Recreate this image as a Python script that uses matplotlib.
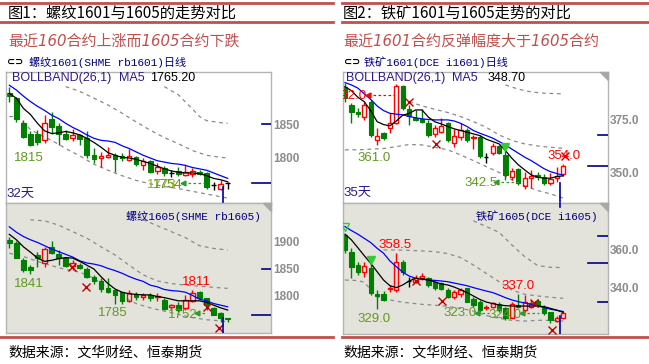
import matplotlib
matplotlib.use("Agg")
import matplotlib.pyplot as plt
import numpy as np
from matplotlib.patches import Rectangle, Polygon
from matplotlib.lines import Line2D

CJK = ['Noto Sans CJK SC', 'DejaVu Sans']
plt.rcParams['font.family'] = ['Liberation Sans', 'Noto Sans CJK SC']

# ---- rebar 1601 (upper left) ----
rb01_open = [1896, 1888, 1852, 1836, 1836, 1826, 1857, 1847, 1835, 1830, 1834, 1829, 1804, 1800, 1802, 1804,
             1803, 1797, 1801, 1790, 1795, 1781, 1785, 1778, 1781, 1775, 1777, 1780, 1778, 1760, 1755, 1763]
rb01_high = [1905, 1890, 1856, 1839, 1841, 1863, 1867, 1851, 1841, 1842, 1836, 1839, 1814, 1809, 1816, 1807,
             1807, 1813, 1803, 1800, 1797, 1792, 1788, 1783, 1787, 1791, 1785, 1782, 1780, 1764, 1768, 1764]
rb01_low = [1883, 1853, 1829, 1817, 1819, 1822, 1836, 1819, 1826, 1825, 1819, 1800, 1793, 1787, 1800, 1780,
            1796, 1795, 1788, 1782, 1778, 1777, 1773, 1772, 1773, 1773, 1772, 1775, 1754, 1753, 1753, 1755]
rb01_close = [1891, 1858, 1831, 1819, 1824, 1851, 1846, 1836, 1828, 1834, 1828, 1804, 1798, 1803, 1804, 1798,
              1800, 1803, 1791, 1795, 1780, 1787, 1778, 1778, 1776, 1780, 1781, 1777, 1758, 1760, 1762, 1763]
rb01_ma5 = [1895, 1888, 1873, 1864, 1851, 1840, 1836, 1837, 1839, 1837, 1834, 1829, 1823, 1816, 1808, 1804,
            1801, 1800, 1798, 1795, 1792, 1788, 1784, 1781, 1779, 1778, 1778, 1777, 1774, 1770, 1768, 1765]
rb01_mid = [1907, 1900, 1891, 1883, 1876, 1870, 1863, 1858, 1851, 1845, 1840, 1834, 1829, 1826, 1825, 1823,
            1818, 1814, 1809, 1804, 1800, 1796, 1794, 1792, 1791, 1789, 1786, 1784, 1782, 1778, 1774, 1770]
rb01_bandA_idx = [8, 10, 12, 14, 16, 18, 20, 22, 24, 26, 28, 30, 31]
rb01_bandA = [1905, 1898, 1888, 1878, 1866, 1853, 1841, 1830, 1821, 1811, 1804, 1801, 1800]
rb01_bandB_idx = [22, 24, 26, 27, 28, 30, 31]
rb01_bandB = [1905, 1893, 1872, 1861, 1855, 1852, 1851]
rb01_bandC_idx = [0, 1, 2, 3, 4, 5, 6, 7, 8, 10, 12, 14, 16, 18, 20, 22, 24, 26, 28, 30, 31]
rb01_bandC = [1861, 1861, 1852, 1842, 1836, 1831, 1826, 1820, 1814, 1803, 1791, 1782, 1774, 1767, 1762,
              1758, 1755, 1751, 1747, 1743, 1741]

# ---- rebar 1605 (lower left) ----
rb05_open = [1904, 1898, 1867, 1854, 1876, 1861, 1891, 1877, 1870, 1856, 1857, 1850, 1836, 1828, 1814, 1811,
             1807, 1791, 1803, 1798, 1801, 1798, 1793, 1780, 1783, 1777, 1791, 1808, 1796, 1778, 1768, 1759]
rb05_high = [1910, 1901, 1870, 1857, 1882, 1891, 1901, 1885, 1873, 1867, 1861, 1854, 1839, 1833, 1833, 1812,
             1808, 1811, 1808, 1805, 1805, 1805, 1796, 1786, 1788, 1802, 1811, 1810, 1797, 1780, 1770, 1760]
rb05_low = [1888, 1870, 1845, 1840, 1854, 1854, 1877, 1857, 1854, 1848, 1850, 1833, 1823, 1808, 1805, 1785,
            1786, 1788, 1793, 1793, 1791, 1791, 1774, 1774, 1771, 1774, 1789, 1793, 1774, 1764, 1752, 1752]
rb05_close = [1898, 1871, 1848, 1848, 1871, 1887, 1879, 1870, 1856, 1861, 1852, 1836, 1828, 1813, 1808, 1802,
              1790, 1805, 1799, 1802, 1797, 1800, 1775, 1783, 1774, 1793, 1805, 1796, 1783, 1765, 1760, 1757]
rb05_ma5 = [1914, 1904, 1891, 1881, 1870, 1864, 1866, 1869, 1871, 1870, 1864, 1857, 1850, 1836, 1823, 1813,
            1807, 1804, 1803, 1802, 1802, 1799, 1797, 1794, 1791, 1791, 1791, 1791, 1788, 1783, 1778, 1774]
rb05_mid = [1928, 1918, 1910, 1904, 1899, 1893, 1887, 1882, 1877, 1872, 1865, 1861, 1859, 1856, 1851, 1847,
            1842, 1836, 1831, 1827, 1820, 1817, 1812, 1810, 1809, 1807, 1801, 1794, 1791, 1786, 1783, 1780]
rb05_bandA_idx = [3, 5, 7, 9, 11, 13, 15, 17, 19, 21, 23, 25, 27, 29, 31]
rb05_bandA = [1941, 1939, 1931, 1919, 1907, 1891, 1876, 1857, 1839, 1828, 1823, 1820, 1818, 1816, 1814]
rb05_bandB_idx = [19, 21, 23, 25, 27, 29, 31]
rb05_bandB = [1941, 1930, 1919, 1908, 1893, 1888, 1885]
rb05_bandC_idx = [0, 2, 4, 6, 8, 10, 12, 14, 16, 18, 20, 22, 24, 26, 28, 30, 31]
rb05_bandC = [1879, 1873, 1864, 1856, 1849, 1844, 1833, 1814, 1799, 1786, 1778, 1772, 1766, 1760, 1756, 1754, 1752]

# ---- iron ore 1601 (upper right) ----
i01_open = [390.7, 382.1, 378.9, 376.6, 383.6, 365.3, 369.0, 371.1, 373.7, 391.0, 380.0, 376.1, 375.3, 373.7,
            368.4, 369.5, 373.4, 364.3, 367.1, 370.3, 366.4, 367.1, 357.4, 359.3, 362.7, 358.5, 348.3, 351.7,
            343.6, 347.5, 349.1, 348.3, 345.1, 347.5, 349.5]
i01_high = [392.3, 382.9, 380.5, 383.6, 384.4, 371.1, 369.5, 378.1, 392.0, 391.5, 382.1, 379.7, 380.0, 375.0,
            372.6, 375.8, 374.2, 370.6, 373.4, 371.1, 367.9, 367.9, 359.3, 364.0, 363.2, 362.7, 352.2, 352.2,
            350.6, 351.4, 350.6, 349.5, 349.9, 353.0, 354.0]
i01_low = [383.6, 373.4, 376.6, 375.0, 367.1, 363.2, 365.6, 368.7, 373.1, 379.7, 372.6, 374.7, 373.4, 367.1,
           367.1, 368.7, 364.8, 362.4, 365.6, 364.8, 361.2, 356.9, 354.6, 358.5, 359.0, 346.7, 346.7, 344.3,
           342.5, 342.8, 346.7, 344.3, 344.3, 345.9, 348.6]
i01_close = [385.2, 378.9, 377.8, 382.1, 367.9, 367.5, 366.4, 373.7, 391.0, 380.5, 376.9, 375.0, 374.2, 367.9,
             371.1, 372.2, 365.3, 367.5, 370.3, 365.6, 367.1, 358.0, 357.4, 362.7, 359.6, 349.1, 351.1, 345.1,
             347.5, 348.6, 348.0, 345.1, 347.0, 348.6, 353.3]
i01_ma5 = [390.7, 388.8, 385.7, 383.6, 379.4, 374.2, 372.8, 372.2, 374.5, 377.2, 378.1, 379.7, 379.7, 376.3,
           374.1, 373.1, 371.9, 370.8, 370.0, 369.2, 368.4, 367.6, 365.9, 364.8, 363.7, 360.5, 356.9, 353.8,
           351.4, 349.1, 348.0, 347.5, 347.5, 348.3, 348.6]
i01_mid = [392.6, 391.5, 390.0, 387.3, 384.7, 381.6, 379.4, 378.1, 377.7, 377.4, 376.6, 376.0, 375.5, 375.2,
           375.0, 375.0, 375.0, 374.5, 373.4, 371.9, 370.0, 368.7, 367.6, 366.4, 364.8, 363.2, 361.2, 359.3,
           357.4, 355.8, 353.9, 352.0, 350.6, 349.7, 348.9]
i01_bandA_idx = [10, 12, 14, 16, 18, 20, 22, 24, 26, 28, 30, 32, 34]
i01_bandA = [383.6, 381.6, 380.0, 378.5, 376.6, 374.2, 371.5, 367.9, 365.3, 363.7, 362.7, 362.1, 361.6]
i01_bandB_idx = [25, 27, 29, 31, 34]
i01_bandB = [391.5, 389.5, 388.2, 387.6, 387.3]
i01_bandC_idx = [0, 2, 4, 6, 8, 10, 12, 14, 16, 18, 20, 22, 24, 26, 28, 30, 32, 34]
i01_bandC = [360.9, 360.9, 361.2, 361.5, 362.4, 363.4, 363.2, 362.1, 360.9, 358.5, 355.8, 353.0, 350.2,
             346.7, 343.9, 341.7, 340.1, 338.1]

# ---- iron ore 1605 (lower right) ----
i05_open = [368.0, 358.8, 352.1, 348.6, 350.7, 336.7, 336.7, 339.3, 338.9, 353.9, 343.7, 343.3, 345.1, 345.1,
            343.0, 342.5, 338.9, 335.4, 336.7, 339.8, 334.2, 332.8, 329.3, 330.2, 331.4, 329.3, 324.4, 331.1,
            328.4, 330.2, 333.2, 329.7, 327.2, 322.6, 324.0]
i05_high = [368.3, 360.9, 353.9, 353.9, 354.7, 338.9, 338.4, 341.6, 358.5, 354.7, 346.0, 346.9, 347.7, 346.0,
            343.7, 343.3, 339.8, 338.9, 339.8, 340.2, 335.4, 333.7, 331.1, 332.8, 332.5, 330.2, 332.5, 337.0,
            336.3, 333.7, 334.2, 331.1, 327.6, 325.5, 327.2]
i05_low = [358.3, 345.1, 346.9, 346.0, 336.3, 329.0, 333.2, 338.1, 338.1, 346.9, 340.7, 342.5, 344.2, 340.7,
           338.9, 338.9, 334.6, 334.2, 335.4, 332.5, 330.2, 327.2, 328.4, 329.3, 327.6, 323.0, 324.0, 329.3,
           327.6, 329.3, 330.2, 325.8, 321.4, 322.3, 323.7]
i05_close = [360.0, 351.2, 348.6, 351.8, 337.2, 335.8, 333.7, 340.2, 353.9, 348.3, 343.7, 345.1, 346.3, 341.6,
             340.2, 339.5, 335.4, 338.1, 338.9, 332.8, 331.1, 328.4, 330.2, 331.9, 328.4, 324.4, 331.4, 330.2,
             332.8, 331.9, 331.1, 326.7, 323.2, 324.4, 326.7]
i05_ma5 = [368.3, 365.3, 361.2, 357.0, 353.0, 348.6, 344.2, 341.2, 340.2, 341.6, 343.7, 345.1, 344.8, 344.2,
           343.2, 342.1, 341.6, 340.5, 339.1, 337.6, 335.8, 334.0, 332.6, 331.8, 331.1, 330.7, 330.5, 330.5,
           330.5, 330.5, 330.5, 330.2, 329.3, 328.3, 327.2]
i05_mid = [372.3, 370.2, 368.3, 366.1, 363.9, 360.9, 358.3, 354.2, 351.2, 348.3, 346.3, 345.1, 344.6, 344.2,
           344.0, 343.7, 343.3, 342.6, 341.9, 341.2, 340.2, 339.3, 338.4, 337.6, 336.3, 334.9, 333.7, 332.8,
           332.1, 331.4, 330.5, 329.7, 328.8, 328.3, 327.6]
i05_bandA_idx = [6, 8, 10, 12, 14, 16, 18, 20, 22, 24, 26, 28, 30, 32, 34]
i05_bandA = [360.0, 360.0, 359.8, 359.5, 359.1, 358.1, 356.0, 352.1, 347.7, 343.3, 338.9, 336.7, 335.8, 335.1, 334.6]
i05_bandB_idx = [20, 22, 24, 26, 28, 30, 32, 34]
i05_bandB = [375.3, 372.3, 369.3, 362.6, 356.5, 351.8, 350.9, 350.7]
i05_bandC_idx = [0, 2, 3, 5, 7, 9, 12, 15, 18, 20, 22, 24, 26, 28, 30, 32, 34]
i05_bandC = [344.2, 343.9, 343.0, 335.4, 333.7, 332.5, 331.4, 330.7, 329.3, 327.9, 325.5, 324.0, 323.0,
             322.6, 323.0, 323.0, 322.6]

W, H = 649, 364
RULE = '#c0504d'
GREEN = '#008000'
RED = '#ff0000'
OLIVE = '#5f9a1e'
NAVY = '#000080'
PURPLE = '#2e1a8a'

fig = plt.figure(figsize=(W / 100, H / 100), dpi=100)


def box(x, y, w, h):
    return fig.add_axes([x / W, 1 - (y + h) / H, w / W, h / H])


def ftext(x, y, s, **kw):
    kw.setdefault('va', 'center')
    fig.text(x / W, 1 - y / H, s, **kw)


def hrule(x0, x1, y):
    fig.add_artist(Line2D([x0 / W, x1 / W], [1 - y / H, 1 - y / H], color=RULE, lw=2))


def setup(ax, xlim, ylim, ticks, labels, bg, marks, corner=True):
    ax.set_xlim(xlim)
    ax.set_ylim(ylim)
    ax.set_facecolor(bg)
    ax.set_xticks([])
    ax.yaxis.tick_right()
    ax.set_yticks(ticks)
    ax.set_yticklabels(labels)
    ax.tick_params(axis='y', length=0, pad=1.5, labelsize=8.5, labelcolor='#8c8c8c')
    for t in ax.get_yticklabels():
        t.set_fontweight('bold')
    for s in ax.spines.values():
        s.set_color('#b4b4b4')
        s.set_linewidth(1)
    for p, frac in marks:
        ax.axhline(p, xmin=1 - frac, xmax=1, color=NAVY, lw=1.2, zorder=5)
    if corner:
        ax.add_patch(Polygon([[0.97, 1], [1, 1], [1, 0.94]], closed=True, transform=ax.transAxes,
                             color='#a8a8a8', zorder=6, clip_on=False))


def candles(ax, o, h, l, c, w=0.66):
    for i in range(len(o)):
        if c[i] < o[i]:
            ax.vlines(i, l[i], h[i], color=GREEN, lw=1, zorder=2)
            ax.add_patch(Rectangle((i - w / 2, c[i]), w, o[i] - c[i], facecolor=GREEN, edgecolor=GREEN,
                                   lw=0.8, zorder=2))
        elif c[i] > o[i]:
            ax.vlines(i, c[i], h[i], color=RED, lw=1, zorder=2)
            ax.vlines(i, l[i], o[i], color=RED, lw=1, zorder=2)
            ax.add_patch(Rectangle((i - w / 2, o[i]), w, c[i] - o[i], facecolor='none', edgecolor=RED,
                                   lw=1, zorder=2))
        else:
            ax.vlines(i, l[i], h[i], color='black', lw=1, zorder=2)
            ax.hlines(o[i], i - w / 2, i + w / 2, color='black', lw=1, zorder=2)


def lines(ax, ma5, mid, bands):
    for idx, vals in bands:
        ax.plot(idx, vals, color='#8a8a8a', lw=0.9, ls=(0, (3, 3)), zorder=1)
    ax.plot(range(len(mid)), mid, color='#0000ff', lw=0.9, zorder=3)
    ax.plot(range(len(ma5)), ma5, color='black', lw=0.9, zorder=3)


def label(ax, x, y, s, color=OLIVE, size=9.5):
    ax.text(x, y, s, color=color, fontsize=size, ha='left', va='center', zorder=7, clip_on=True)


def arrow(ax, x0, x1, y, color='#2e9a2e'):
    ax.plot([x0, x1], [y, y], color=color, lw=0.9, ls=(0, (2, 2)), zorder=6)
    ax.plot([x0], [y], marker='<', ms=3.5, color=color, zorder=6)


def cross(ax, x, y):
    ax.plot([x], [y], marker='x', ms=6, mew=1, color='#c00000', zorder=6)


def header(ax, fx, value):
    ax.text(fx[0], 0.955, 'BOLLBAND(26,1)', transform=ax.transAxes, color=PURPLE, fontsize=9, va='center')
    ax.text(fx[1], 0.955, 'MA5', transform=ax.transAxes, color=PURPLE, fontsize=9, va='center')
    ax.text(fx[2], 0.955, value, transform=ax.transAxes, color='black', fontsize=9, va='center')


# ---------------- figure decorations ----------------
hrule(0, 333, 3)
hrule(0, 333, 22)
hrule(342, 649, 3)
hrule(342, 649, 22)
hrule(0, 333, 337)
hrule(342, 649, 337)

ftext(8, 13, '图1：螺纹1601与1605的走势对比', fontsize=11, family=CJK)
ftext(343, 13, '图2：铁矿1601与1605走势的对比', fontsize=11, family=CJK)
ftext(8, 41, '最近160合约上涨而1605合约下跌', fontsize=10.8, color=RULE, style='italic',
      family=['DejaVu Sans', 'Noto Sans CJK SC'])
ftext(343, 41, '最近1601合约反弹幅度大于1605合约', fontsize=10.8, color=RULE, style='italic',
      family=['DejaVu Sans', 'Noto Sans CJK SC'])
ftext(7, 62, '⊂⊃', fontsize=7, family=['DejaVu Sans'], weight='bold')
ftext(344, 62, '⊂⊃', fontsize=7, family=['DejaVu Sans'], weight='bold')
ftext(29, 62, '螺纹1601(SHME rb1601)日线', fontsize=8, color=NAVY,
      family=['Liberation Mono', 'Noto Sans CJK SC'])
ftext(364, 62, '铁矿1601(DCE i1601)日线', fontsize=8, color=NAVY,
      family=['Liberation Mono', 'Noto Sans CJK SC'])
ftext(8, 353, '数据来源：文华财经、恒泰期货', fontsize=10, family=CJK)
ftext(343, 353, '数据来源：文华财经、恒泰期货', fontsize=10, family=CJK)

# ---------------- left: rebar ----------------
xl_left = (-0.47, 37.15)
ax1 = box(6, 72, 265, 131)
setup(ax1, xl_left, (1733.8, 1926.5), [1800, 1850], ['1800', '1850'], 'white',
      [(1850, 0.034), (1763, 0.072)], corner=False)
lines(ax1, rb01_ma5, rb01_mid, [(rb01_bandA_idx, rb01_bandA), (rb01_bandB_idx, rb01_bandB),
                                (rb01_bandC_idx, rb01_bandC)])
candles(ax1, rb01_open, rb01_high, rb01_low, rb01_close)
label(ax1, 0.7, 1800, '1815')
label(ax1, 19.5, 1760, '1773', color='#9aaa10')
label(ax1, 20.4, 1760, '1754')
arrow(ax1, 24.6, 27.7, 1763)
label(ax1, -0.35, 1747, '32天', color=PURPLE, size=9.5)
ax1.axvline(30.3, ymin=0, ymax=0.12, color='#0000a0', lw=1.2, zorder=6)
header(ax1, (0.023, 0.425, 0.545), '1765.20')

ax2 = box(6, 203, 265, 130)
setup(ax2, xl_left, (1731.5, 1972), [1800, 1850, 1900], ['1800', '1850', '1900'], '#e3e3dc',
      [(1850, 0.034), (1765, 0.072)])
lines(ax2, rb05_ma5, rb05_mid, [(rb05_bandA_idx, rb05_bandA), (rb05_bandB_idx, rb05_bandB),
                                (rb05_bandC_idx, rb05_bandC)])
candles(ax2, rb05_open, rb05_high, rb05_low, rb05_close)
label(ax2, 0.7, 1823, '1841')
label(ax2, 12.6, 1768, '1785')
label(ax2, 22.5, 1764, '1752')
label(ax2, 24.5, 1826, '1811', color=RED)
arrow(ax2, 26.7, 28.1, 1768)
cross(ax2, 8.9, 1854)
cross(ax2, 10.9, 1817)
cross(ax2, 28.0, 1780)
cross(ax2, 29.8, 1741)
ax2.axvline(30.3, ymin=0, ymax=0.115, color='#0000a0', lw=1.2, zorder=6)
ax2.text(0.96, 0.9, '螺纹1605(SHME rb1605)', transform=ax2.transAxes, color=NAVY, fontsize=8,
         ha='right', va='center', family=['Liberation Mono', 'Noto Sans CJK SC'])

# ---------------- right: iron ore ----------------
xl_right = (-0.31, 40.97)
ax3 = box(343, 72, 265, 131)
setup(ax3, xl_right, (335.8, 397.6), [350, 375], ['350.0', '375.0'], 'white',
      [(367.9, 0.038), (353.3, 0.075)])
lines(ax3, i01_ma5, i01_mid, [(i01_bandA_idx, i01_bandA), (i01_bandB_idx, i01_bandB),
                              (i01_bandC_idx, i01_bandC)])
candles(ax3, i01_open, i01_high, i01_low, i01_close)
ax3.text(3.3, 386.3, '392.0', color=RED, fontsize=9.5, ha='right', va='center', zorder=7, clip_on=True)
arrow(ax3, 3.6, 7.6, 386.8, color=RED)
cross(ax3, 9.9, 383.6)
cross(ax3, 14.2, 363.7)
label(ax3, 2.0, 356.9, '361.0')
label(ax3, 18.6, 345.1, '342.5')
arrow(ax3, 23.6, 27.1, 345.5)
label(ax3, 31.5, 358.0, '354.0', color=RED)
cross(ax3, 34.3, 358.0)
ax3.plot([25], [362.1], marker='v', ms=6, color='#33cc33', zorder=6)
label(ax3, -0.3, 340.4, '35天', color=PURPLE, size=9.5)
ax3.axvline(33.5, ymin=0, ymax=0.15, color='#0000a0', lw=1.2, zorder=6)
header(ax3, (0.011, 0.41, 0.545), '348.70')

ax4 = box(343, 203, 265, 131)
setup(ax4, xl_right, (315.8, 384.7), [340, 360], ['340.0', '360.0'], '#e3e3dc',
      [(367.4, 0.038), (353.2, 0.075), (332.6, 0.038)])
lines(ax4, i05_ma5, i05_mid, [(i05_bandA_idx, i05_bandA), (i05_bandB_idx, i05_bandB),
                              (i05_bandC_idx, i05_bandC)])
candles(ax4, i05_open, i05_high, i05_low, i05_close)
label(ax4, 5.2, 362.6, '358.5', color=RED)
label(ax4, 2.0, 323.7, '329.0')
label(ax4, 15.3, 326.7, '323.0')
arrow(ax4, 20.5, 22.5, 326.7)
label(ax4, 22.4, 325.8, '324.0')
arrow(ax4, 27.6, 30.2, 326.7)
label(ax4, 24.4, 341.2, '337.0', color=RED)
cross(ax4, 11.0, 343.7)
cross(ax4, 15.1, 333.2)
cross(ax4, 29.4, 331.9)
cross(ax4, 32.3, 317.9)
ax4.plot([0], [372.3], marker='v', ms=6, mfc='none', mec='#33cc33', zorder=6)
ax4.plot([4], [354.7], marker='v', ms=6, color='#33cc33', zorder=6)
ax4.axvline(33.5, ymin=0, ymax=0.14, color='#0000a0', lw=1.2, zorder=6)
ax4.axvline(33.5, ymin=0.97, ymax=1, color='#0000a0', lw=1.2, zorder=6)
ax4.text(0.96, 0.9, '铁矿1605(DCE i1605)', transform=ax4.transAxes, color=NAVY, fontsize=8,
         ha='right', va='center', family=['Liberation Mono', 'Noto Sans CJK SC'])

fig.savefig('out.png', dpi=100)
